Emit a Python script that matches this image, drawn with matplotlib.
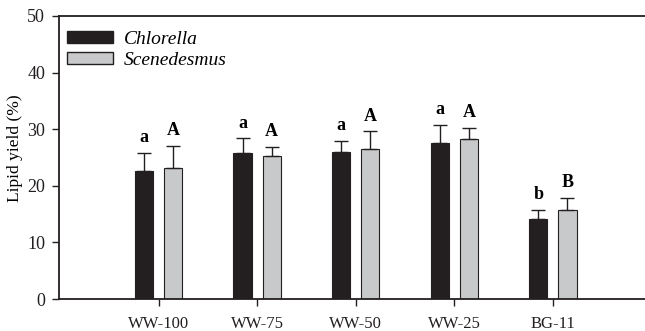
import matplotlib.pyplot as plt
import matplotlib.patches as mpatches
import numpy as np

plt.rcParams['font.family'] = ['Liberation Serif', 'DejaVu Serif']

groups = ['WW-100', 'WW-75', 'WW-50', 'WW-25', 'BG-11']
chlorella = [22.7, 25.8, 26.0, 27.6, 14.1]
chlorella_err = [3.1, 2.6, 1.9, 3.1, 1.7]
scenedesmus = [23.1, 25.3, 26.5, 28.3, 15.7]
scenedesmus_err = [4.0, 1.6, 3.1, 2.0, 2.2]
chlorella_letters = ['a', 'a', 'a', 'a', 'b']
scenedesmus_letters = ['A', 'A', 'A', 'A', 'B']

x = np.arange(len(groups))
w = 0.184
off = 0.148

fig = plt.figure(figsize=(6.45, 3.31), dpi=100)
ax = fig.add_axes([59 / 645, 32 / 331, 1 - 59 / 645 + 0.01, 283 / 331])

ax.bar(x - off, chlorella, w, color='#231f20', edgecolor='#231f20', linewidth=0.8,
       yerr=[np.zeros(5), chlorella_err], capsize=4.7,
       error_kw=dict(ecolor='#231f20', elinewidth=1, capthick=1))
ax.bar(x + off, scenedesmus, w, color='#c8c9cb', edgecolor='#231f20', linewidth=0.8,
       yerr=[np.zeros(5), scenedesmus_err], capsize=4.7,
       error_kw=dict(ecolor='#231f20', elinewidth=1, capthick=1))

for i in range(len(groups)):
    ax.text(x[i] - off, chlorella[i] + chlorella_err[i] + 1.9, chlorella_letters[i],
            ha='center', va='baseline', fontsize=13, fontweight='bold')
    ax.text(x[i] + off, scenedesmus[i] + scenedesmus_err[i] + 1.9, scenedesmus_letters[i],
            ha='center', va='baseline', fontsize=13, fontweight='bold')

ax.set_xlim(-1.01, 5.0)
ax.set_ylim(0, 50)
ax.set_xticks(x)
ax.set_xticklabels(groups)
ax.set_yticks([0, 10, 20, 30, 40, 50])
ax.set_ylabel('Lipid yield (%)', fontsize=12.5)
ax.yaxis.set_label_coords(-0.06, 0.534)
ax.tick_params(axis='both', direction='out', length=5, width=1, labelsize=12,
               colors='#231f20')
ax.tick_params(axis='x', pad=7)
ax.tick_params(axis='y', pad=5, labelsize=13)
for s in ['left', 'top', 'bottom']:
    ax.spines[s].set_linewidth(1.3)
    ax.spines[s].set_color('#231f20')
ax.spines['right'].set_visible(False)

handles = [mpatches.Patch(facecolor='#231f20', edgecolor='#231f20', label='Chlorella'),
           mpatches.Patch(facecolor='#c8c9cb', edgecolor='#231f20', label='Scenedesmus')]
leg = ax.legend(handles=handles, loc='upper left', frameon=False,
                prop=dict(style='italic', size=14), handlelength=2.4, handleheight=0.6,
                handletextpad=0.55, labelspacing=0.2, borderaxespad=0.0,
                bbox_to_anchor=(0.0, 0.975))

fig.savefig('out.png', dpi=100)
